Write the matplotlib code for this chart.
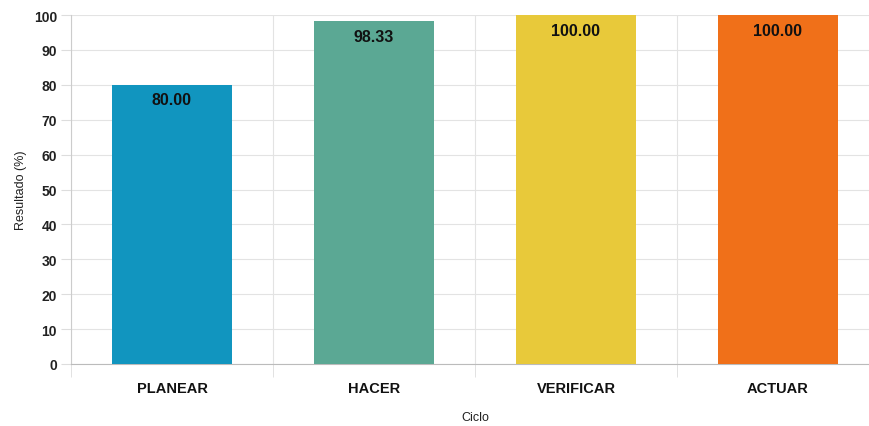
import matplotlib.pyplot as plt
import numpy as np

plt.rcParams['font.family'] = ['Liberation Sans', 'DejaVu Sans']

categories = ['PLANEAR', 'HACER', 'VERIFICAR', 'ACTUAR']
values = [80.00, 98.33, 100.00, 100.00]
colors = ['#1195bf', '#5ba894', '#e8c93a', '#f07019']
yticks = [0, 10, 20, 30, 40, 50, 60, 70, 80, 90, 100]

W, H = 869, 427
fig = plt.figure(figsize=(W / 100, H / 100), dpi=100)
ax = fig.add_axes([71 / W, 62 / H, 808 / W, 349 / H])

x = np.arange(len(categories))
bars = ax.bar(x, values, width=0.595, color=colors, zorder=3)

for xi, v in zip(x, values):
    ax.text(xi, v - 2.2, f'{v:.2f}', ha='center', va='top',
            fontsize=11.5, fontweight='bold', color='#111111', zorder=4)

ax.set_xlim(-0.5, len(categories) - 0.5)
ax.set_ylim(0, 100)
ax.set_yticks(yticks)
ax.set_yticklabels([str(t) for t in yticks], fontsize=10, fontweight='bold', color='#222222')
ax.set_xticks(x)
ax.set_xticklabels(categories, fontsize=10.5, fontweight='bold', color='#111111')
ax.tick_params(axis='x', length=0, pad=12)
ax.tick_params(axis='y', length=7, color='#dddddd', pad=3)

# vertical grid at category boundaries, extending a bit below the axis
bounds = np.arange(len(categories) + 1) - 0.5
ax.set_xticks(bounds, minor=True)
ax.tick_params(axis='x', which='minor', length=9, color='#dddddd')
ax.grid(True, which='minor', axis='x', color='#e3e3e3', linewidth=0.8, zorder=0)
ax.grid(True, which='major', axis='y', color='#e3e3e3', linewidth=0.8, zorder=0)

for s in ['top', 'right']:
    ax.spines[s].set_visible(False)
ax.spines['left'].set_color('#cccccc')
ax.spines['bottom'].set_color('#bbbbbb')

ax.set_ylabel('Resultado (%)', fontsize=9, color='#222222', labelpad=5)
ax.set_xlabel('Ciclo', fontsize=9, color='#222222', labelpad=12)

fig.savefig('out.png', dpi=100)
